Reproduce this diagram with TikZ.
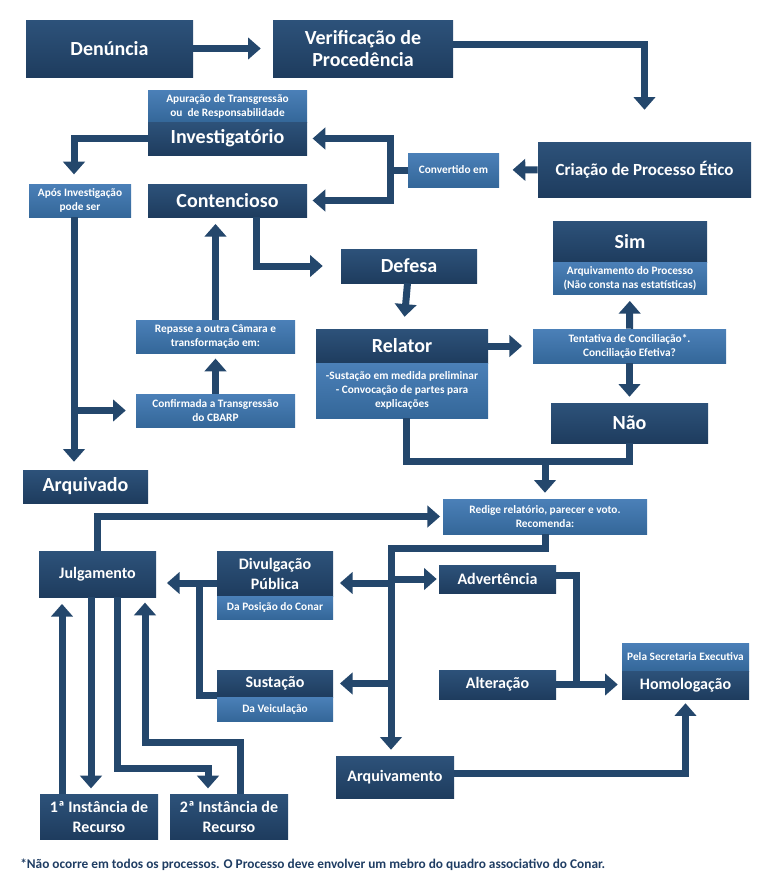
\documentclass[tikz,border=0pt]{standalone}
\usepackage{fontspec}
\setmainfont{Carlito}
\usetikzlibrary{arrows.meta, calc}

\definecolor{boxtop}{HTML}{2D527A}
\definecolor{boxbot}{HTML}{1E3C5E}
\definecolor{subtop}{HTML}{4B80B8}
\definecolor{subbot}{HTML}{346799}
\definecolor{linecol}{HTML}{24476C}
\definecolor{notecol}{HTML}{1F3D63}

\tikzset{
  wh/.style 2 args={minimum width=#1*0.75pt, minimum height=#2*0.75pt},
  darkbox/.style={top color=boxtop, bottom color=boxbot, text=white, inner sep=0pt, align=center,
    font=\fontsize{15}{16.5}\selectfont\bfseries},
  midbox/.style={darkbox, font=\fontsize{12}{15}\selectfont\bfseries},
  lightbox/.style={top color=subtop, bottom color=subbot, text=white, inner sep=0pt, align=center,
    font=\fontsize{8.5}{10.5}\selectfont\bfseries},
  conn/.style={draw=linecol, line width=5.25pt},
  arr/.style={conn, -{Triangle[width=16pt, length=9.5pt]}},
}

\begin{document}
\begin{tikzpicture}[x=0.75pt, y=-0.75pt]
\useasboundingbox (0,0) rectangle (771,893);

% boxes
\node[darkbox, wh={167}{57}] (denuncia) at (109.5,48.5) {Denúncia};
\node[darkbox, wh={180}{57}] (verif) at (363,48.5) {Verificação de\\Procedência};
\node[darkbox, wh={213}{55}, font=\fontsize{12.75}{14}\selectfont\bfseries] (criacao) at (644.5,169.5) {Criação de Processo Ético};
\node[lightbox, wh={91}{34}] (convertido) at (453.5,170) {Convertido em};
\node[lightbox, wh={159}{32}] (invsub) at (227.5,106) {Apuração de Transgressão\\ou\ \ de Responsabilidade};
\node[darkbox, wh={159}{33}] (inv) at (227.5,138.5) {Investigatório};
\node[darkbox, wh={159}{33}] (contencioso) at (227.5,200.5) {Contencioso};
\node[lightbox, wh={102}{33}] (apos) at (80,200.5) {Após Investigação\\pode ser};
\node[darkbox, wh={125}{33}] (arquivado) at (85.5,486.5) {Arquivado};
\node[lightbox, wh={159}{33}] (confirmada) at (215.5,410.5) {Confirmada a Transgressão\\do CBARP};
\node[lightbox, wh={159}{33}] (repasse) at (215.5,336.5) {Repasse a outra Câmara e\\transformação em:};
\node[darkbox, wh={136}{34}] (defesa) at (409,266) {Defesa};
\node[darkbox, wh={172}{34}] (relator) at (402,346) {Relator};
\node[lightbox, wh={172}{55}] (relatorsub) at (402,390.5) {-Sustação em medida preliminar\\- Convocação de partes para\\explicações};
\node[lightbox, wh={193}{34}] (tentativa) at (629.5,346) {Tentativa de Conciliação*.\\Conciliação Efetiva?};
\node[darkbox, wh={154}{41}] (sim) at (630,241.5) {Sim};
\node[lightbox, wh={154}{32}] (simsub) at (630,278) {Arquivamento do Processo\\(Não consta nas estatísticas)};
\node[darkbox, wh={157}{40}] (nao) at (629.5,423) {Não};
\node[lightbox, wh={204}{35}] (redige) at (545,516.5) {Redige relatório, parecer e voto.\\Recomenda:};
\node[midbox, wh={117}{46}] (julgamento) at (97.5,574) {Julgamento};
\node[midbox, wh={116}{45}] (divulg) at (275,573.5) {Divulgação\\Pública};
\node[lightbox, wh={116}{23}] (divulgsub) at (275,607.5) {Da Posição do Conar};
\node[midbox, wh={116}{27}] (sustacao) at (275,683.5) {Sustação};
\node[lightbox, wh={116}{24}] (sustacaosub) at (275,709) {Da Veiculação};
\node[midbox, wh={117}{28}] (advert) at (497.5,579) {Advertência};
\node[midbox, wh={117}{29}] (alter) at (497.5,684.5) {Alteração};
\node[lightbox, wh={127}{28}] (homolsub) at (685.5,657) {Pela Secretaria Executiva};
\node[midbox, wh={127}{28}] (homol) at (685.5,685) {Homologação};
\node[midbox, wh={118}{42}] (arquivamento) at (395,777) {Arquivamento};
\node[midbox, wh={118}{45}] (inst1) at (99,816.5) {1ª Instância de\\Recurso};
\node[midbox, wh={118}{45}] (inst2) at (229,816.5) {2ª Instância de\\Recurso};
\node[anchor=west, inner sep=0pt, text=notecol, font=\fontsize{10}{12}\selectfont\bfseries] (nota) at (20,865)
  {*Não ocorre em todos os processos. O Processo deve envolver um mebro do quadro associativo do Conar.};

% top part
\draw[arr, shorten >=9pt] (denuncia) -- (verif);
\draw[arr, shorten >=24pt] ([yshift=3pt]verif.east) -| (criacao.north);
\draw[arr, shorten >=10pt] (criacao) -- (convertido);
\coordinate (split) at (390,170);
\draw[conn] (convertido) -- (split);
\draw[arr, shorten >=4pt] (split) |- (inv);
\draw[arr, shorten >=4pt] (split) |- (contencioso);

% investigatorio branch
\draw[arr, shorten >=7pt] (inv.west) -| ([xshift=-4.5pt]apos.north);
\coordinate (trunk) at ([xshift=-4.5pt]apos.south);
\draw[arr, shorten >=6pt] (trunk) -- (trunk |- arquivado.north);
\draw[arr, shorten >=7.5pt] (trunk |- confirmada.west) -- (confirmada.west);
\draw[arr, shorten >=4pt] (confirmada) -- (repasse);
\draw[arr, shorten >=5pt] (repasse.north) -- (repasse.north |- contencioso.south);

% contencioso branch
\draw[arr, shorten >=13.5pt] ([xshift=22pt]contencioso.south) |- (defesa);
\draw[arr, shorten >=9pt] (defesa) -- (relator);
\draw[arr, shorten >=8pt] (relator) -- (tentativa);
\draw[arr, shorten >=5pt] (tentativa) -- (simsub);
\draw[arr, shorten >=4.5pt] (tentativa) -- (nao);
\coordinate (merge) at (545,461);
\draw[conn] ([xshift=3pt]relatorsub.south) |- (merge) -| (nao.south);
\draw[arr, shorten >=4.5pt] (merge) -- (redige);

% recommendations
\draw[arr, shorten >=2pt] (julgamento.north) |- (redige.west);
\coordinate (drop) at (391,548);
\draw[arr, shorten >=4.5pt] (redige.south) |- (drop) -- (drop |- arquivamento.north);
\coordinate (rowA) at (0,583);
\draw[arr, shorten >=5pt] (drop |- rowA) -- (divulg.east |- rowA);
\draw[arr, shorten >=1.5pt] (drop |- advert.west) -- (advert.west);
\draw[arr, shorten >=5pt] (drop |- sustacao.east) -- (sustacao.east);
\draw[arr, shorten >=8pt] (divulg.west |- rowA) -- (julgamento.east |- rowA);
\coordinate (joinS) at (199,695);
\draw[conn] (sustacao.west |- joinS) -- (joinS) -- (joinS |- rowA);
\coordinate (joinH) at (576,575);
\draw[conn] (advert.east |- joinH) -- (joinH) -- (joinH |- alter.east);
\draw[arr, shorten >=3pt] (alter.east) -- (alter.east -| homol.west);
\draw[arr, shorten >=3pt] ([yshift=3pt]arquivamento.east) -| (homol.south);

% appeals
\foreach \n/\x in {1/62, 2/91, 3/117, 4/145, 5/208, 6/240} {
  \coordinate (k\n) at (\x,0);
}
\coordinate (bend3) at (117,768);
\coordinate (bend4) at (145,742);
\draw[arr, shorten >=5pt] (k1 |- inst1.north) -- (k1 |- julgamento.south);
\draw[arr, shorten >=4pt] (k2 |- julgamento.south) -- (k2 |- inst1.north);
\draw[arr, shorten >=4pt] (k3 |- julgamento.south) -- (bend3) -| (k5 |- inst2.north);
\draw[arr, shorten >=4pt] (k6 |- inst2.north) |- (bend4) -- (k4 |- julgamento.south);
\end{tikzpicture}
\end{document}
